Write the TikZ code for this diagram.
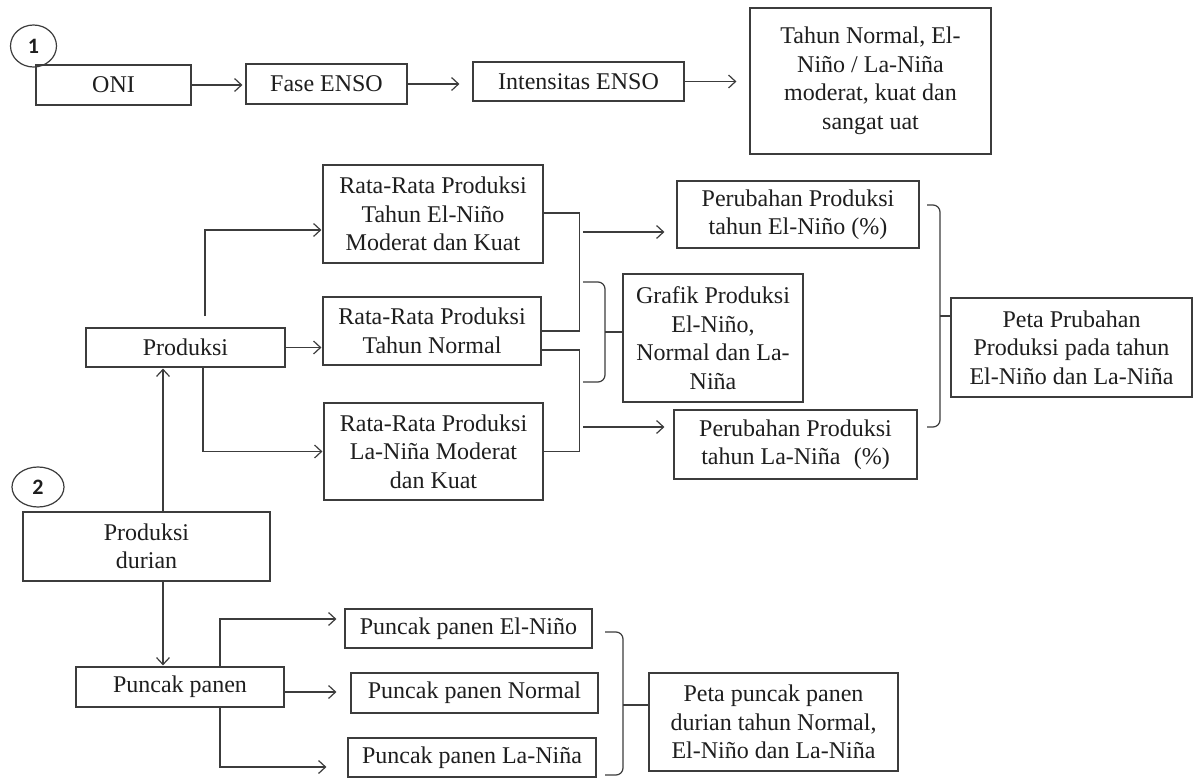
\documentclass[tikz,border=0pt]{standalone}
\usepackage{fontspec}
\setmainfont{Liberation Serif}
\newfontfamily\numfont{Carlito}
\usetikzlibrary{arrows.meta,shapes.geometric}
\definecolor{ln}{HTML}{3C3C3C}
\definecolor{tx}{HTML}{1E1E1E}
\tikzset{
  box/.style={draw=ln, line width=1.2pt, inner sep=0pt, align=center, text=tx,
    font=\fontsize{24}{28.5}\selectfont},
  conn/.style={draw=ln, line width=1.2pt},
  arr/.style={conn, -{Straight Barb[length=7pt,width=13pt,line width=1.2pt]}},
  numc/.style={ellipse, draw=ln, line width=1.2pt, inner sep=0pt, text=tx,
    font=\numfont\bfseries\fontsize{22}{24}\selectfont},
  brace/.style={conn, rounded corners=7pt}
}
\begin{document}
\begin{tikzpicture}[x=1pt,y=-1pt]
\useasboundingbox (0,0) rectangle (1194,778);
\fill[white] (0,0) rectangle (1194,778);

% section 1
\node[box, minimum width=155, minimum height=40] (oni) at (113.5,85) {ONI};
\node[numc, minimum width=46, minimum height=42] (c1) at (33.5,46) {1};
\node[box, minimum width=161, minimum height=40] (fase) at (326.5,84) {Fase ENSO};
\node[box, minimum width=211, minimum height=39] (intens) at (578.5,81.5) {Intensitas ENSO};
\node[box, minimum width=241, minimum height=146] (tahun) at (870.5,81) {Tahun Normal, El-\\Niño / La-Niña\\moderat, kuat dan\\sangat uat};

\draw[arr, shorten >=3pt] (oni.east) -- (oni.east -| fase.west);
\draw[arr, shorten >=13pt] (fase.east) -- (fase.east -| intens.west);
\draw[arr, shorten >=13pt] (intens.east) -- (intens.east -| tahun.west);

% section production
\node[box, minimum width=199, minimum height=39] (prod) at (185.5,347.5) {Produksi};
\node[box, minimum width=220, minimum height=98] (rel) at (433,214) {Rata-Rata Produksi\\Tahun El-Niño\\Moderat dan Kuat};
\node[box, minimum width=218, minimum height=68] (rnorm) at (432,331) {Rata-Rata Produksi\\Tahun Normal};
\node[box, minimum width=219, minimum height=97] (rlan) at (433.5,451.5) {Rata-Rata Produksi\\La-Niña Moderat\\dan Kuat};
\node[box, minimum width=242, minimum height=67] (pchel) at (798,214.5) {Perubahan Produksi\\tahun El-Niño (\%)};
\node[box, minimum width=180, minimum height=128] (grafik) at (713,338) {Grafik Produksi\\El-Niño,\\Normal dan La-\\Niña};
\node[box, minimum width=243, minimum height=69] (pchla) at (795.5,444.5) {Perubahan Produksi\\tahun La-Niña\hspace{0.3em} (\%)};
\node[box, minimum width=241, minimum height=99] (petap) at (1071.5,347.5) {Peta Prubahan\\Produksi pada tahun\\El-Niño dan La-Niña};

\coordinate (pt1) at (205,316);
\draw[arr, shorten >=1pt] (pt1) |- ([yshift=-16pt]rel.west);
\draw[arr, shorten >=1pt] (prod.east) -- (prod.east -| rnorm.west);
\draw[arr, shorten >=1pt] ([xshift=17.5pt]prod.south) |- (rlan.west);

\draw[conn] ([yshift=1pt]rel.east) -- ++(36,0) |- (rnorm.east);
\draw[conn] ([yshift=-19pt]rnorm.east) -- ++(38,0) |- (rlan.east);
\coordinate (a1) at (583,232);
\coordinate (a2) at (583,427);
\draw[arr, shorten >=12pt] (a1) -- (a1 -| pchel.west);
\draw[arr, shorten >=9pt] (a2) -- (a2 -| pchla.west);

% brace to grafik
\coordinate (g1) at (583,282);
\coordinate (g2) at (583,382);
\coordinate (gm) at (605,332);
\draw[brace] (g1) -- (605,282) -- (605,332) -- (605,382) -- (g2);
\draw[conn] (gm) -- (gm -| grafik.west);

% brace to peta prubahan
\coordinate (p1) at (927,205);
\coordinate (p2) at (927,427);
\coordinate (pm) at (940,316);
\draw[brace] (p1) -- (940,205) -- (940,316) -- (940,427) -- (p2);
\draw[conn] (pm) -- (pm -| petap.west);

% section 2
\node[box, minimum width=247, minimum height=69] (durian) at (146.5,546.5) {Produksi\\durian};
\node[numc, minimum width=52, minimum height=40] (c2) at (38,487) {2};
\node[box, minimum width=208, minimum height=40] (puncak) at (180,687) {Puncak panen};
\node[box, minimum width=247, minimum height=39] (pel) at (468.5,628.5) {Puncak panen El-Niño};
\node[box, minimum width=247, minimum height=40] (pnorm) at (474.5,693) {Puncak panen Normal};
\node[box, minimum width=248, minimum height=39] (plan) at (472,757.5) {Puncak panen La-Niña};
\node[box, minimum width=249, minimum height=98] (ppun) at (773.5,722) {Peta puncak panen\\durian tahun Normal,\\El-Niño dan La-Niña};

\draw[arr, shorten >=1pt] ([xshift=16.5pt]durian.north) -- ([xshift=16.5pt]durian.north |- prod.south);
\draw[arr, shorten >=1pt] ([xshift=16.5pt]durian.south) -- ([xshift=16.5pt]durian.south |- puncak.north);
\draw[arr, shorten >=8pt] ([xshift=40pt]puncak.north) |- ([yshift=9.5pt]pel.west);
\draw[arr, shorten >=14pt] ([yshift=-5pt]puncak.east) -- ([yshift=-5pt]puncak.east -| pnorm.west);
\draw[arr, shorten >=21pt] ([xshift=40pt]puncak.south) |- ([yshift=-9.5pt]plan.west);

% brace to peta puncak
\coordinate (b1) at (605,632);
\coordinate (b2) at (605,775);
\coordinate (bm) at (623,705);
\draw[brace] (b1) -- (623,632) -- (623,705) -- (623,775) -- (b2);
\draw[conn] (bm) -- (bm -| ppun.west);
\end{tikzpicture}
\end{document}
